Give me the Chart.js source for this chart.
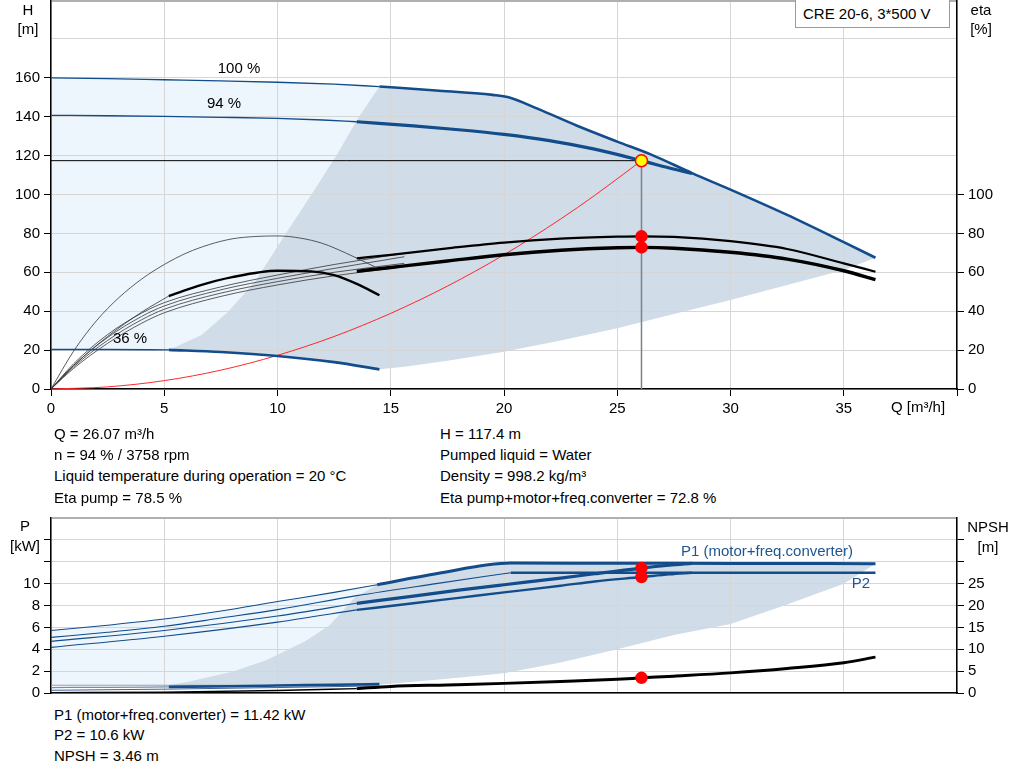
<!DOCTYPE html>
<html><head><meta charset="utf-8">
<script src="https://cdn.jsdelivr.net/npm/chart.js@4/dist/chart.umd.min.js"></script>
<style>
body{margin:0;background:#fff;width:1024px;height:781px;overflow:hidden;font-family:"Liberation Sans",Arial,sans-serif;position:relative;}
canvas{position:absolute;left:0;}
#c1{top:0;}
#c2{top:510px;}
.t{position:absolute;font-size:15px;line-height:18px;white-space:nowrap;color:#000;}
.c{transform:translate(-50%,-50%);}
.l{transform:translateY(-50%);}
#box{position:absolute;left:795px;top:-1px;width:155px;height:29px;border:1px solid #9a9a9a;background:#fff;box-sizing:border-box;}
</style></head><body>
<canvas id="c1" width="1024" height="420"></canvas>
<canvas id="c2" width="1024" height="192"></canvas>

<div id="box"></div>
<div class="t l" style="left:803px;top:14px;">CRE 20-6, 3*500 V</div>

<div class="t c" style="left:28px;top:10px;">H</div>
<div class="t c" style="left:28px;top:29px;">[m]</div>
<div class="t c" style="left:981px;top:10px;">eta</div>
<div class="t c" style="left:981px;top:29px;">[%]</div>
<div class="t c" style="left:918px;top:407px;">Q [m³/h]</div>
<div class="t c" style="left:239px;top:68px;">100 %</div>
<div class="t c" style="left:224px;top:103px;">94 %</div>
<div class="t c" style="left:130px;top:338px;">36 %</div>

<div class="t l" style="left:54px;top:434px;">Q = 26.07 m³/h</div>
<div class="t l" style="left:54px;top:455px;">n = 94 % / 3758 rpm</div>
<div class="t l" style="left:54px;top:476px;">Liquid temperature during operation = 20 °C</div>
<div class="t l" style="left:54px;top:498px;">Eta pump = 78.5 %</div>
<div class="t l" style="left:440px;top:434px;">H = 117.4 m</div>
<div class="t l" style="left:440px;top:455px;">Pumped liquid = Water</div>
<div class="t l" style="left:440px;top:476px;">Density = 998.2 kg/m³</div>
<div class="t l" style="left:440px;top:498px;">Eta pump+motor+freq.converter = 72.8 %</div>

<div class="t c" style="left:25px;top:526px;">P</div>
<div class="t c" style="left:25px;top:546px;">[kW]</div>
<div class="t c" style="left:988px;top:527px;">NPSH</div>
<div class="t c" style="left:988px;top:547px;">[m]</div>
<div class="t c" style="left:767px;top:551px;color:#1f5591;">P1 (motor+freq.converter)</div>
<div class="t c" style="left:861px;top:583px;color:#1f5591;">P2</div>

<div class="t l" style="left:54px;top:715px;">P1 (motor+freq.converter) = 11.42 kW</div>
<div class="t l" style="left:54px;top:735px;">P2 = 10.6 kW</div>
<div class="t l" style="left:54px;top:756px;">NPSH = 3.46 m</div>

<script>
// ---------- Top chart data (Q in m³/h, H in m, eta in %) ----------
const xTicks = [0,5,10,15,20,25,30,35];
const dutyQ = 26.07, dutyH = 117.4, dutyEtaPump = 78.5, dutyEtaTotal = 72.8;
const dutyP1 = 11.42, dutyP2 = 10.6, dutyNPSH = 3.46;

const q100thin = [0,2.5,5,7.5,10,12.5,14.5];
const h100thin = [160,159.6,159,158.4,157.7,156.7,155.5];
const q100thick = [14.5,17,19.5,20.2,21.5,23.2,25,26.5,28.3,30,32.5,35,36.4];
const h100thick = [155.5,153.5,151.2,150,144,135.5,127.2,120.5,111,102.5,89.5,75.5,67.5];

const q94thin = [0,2.5,5,7.5,10,12,13.5];
const h94thin = [140.7,140.5,140.2,139.7,139.1,138.3,137.4];
const q94thick = [13.5,16,18,20,22,24,26.07,27.3,28.3];
const h94thick = [137.4,135.3,133.3,130.9,127.7,123.3,117.4,113.6,110.8];

const q36thin = [0,2.5,5.2];
const h36thin = [20.3,20.3,20.1];
const q36thick = [5.2,7.5,10,12.5,14.5];
const h36thick = [20.1,19,17,13.8,10.1];

const qSys = [0,2.5,5,7.5,10,12.5,15,17.5,20,22.5,24,26.07];
const hSys = [0,1.1,4.3,9.7,17.3,27,38.9,52.9,69,87.4,99.5,117.4];

const qEta = [13.5,15,17.5,20,22.5,25,26.07,27.5,30,32.5,35,36.4];
const etaPump = [67.2,69,72.3,75.3,77.3,78.3,78.5,78.2,76,72,64.6,60.3];
const etaTotal = [60.5,62.5,65.8,69,71.3,72.6,72.8,72.4,70.3,66.8,60.8,56.2];

const qEta36Arc = [0,1,2,3,4,5,6,7,8,9,10,11,12,13,14.3];
const eta36Arc = [0,19.5,35,47,56.5,64,70,74.3,77.2,78.4,78.7,77.6,74.8,70,62.8];
const qEta36TotThin = [0,1,2.5,4,5.2];
const eta36TotThin = [0,12,27,39.5,47.8];
const qEta36Tot = [5.2,6.5,8,10,11.5,12.5,13.5,14.5];
const eta36Tot = [47.8,53,57.5,60.8,60.5,58.5,54,48.2];

const qFan = [0,1,2.5,4,5,7.5,10,12.5,15.6];
const etaFanA = [0,13,28,39,44.4,52.5,58.6,64,69.8];
const etaFanB = [0,12.2,26.5,37.3,42.7,51,56.9,62,68];
const etaFanC = [0,11.4,25,35.6,41,49.3,55.2,60,64.6];
const etaFanD = [0,10.6,23.5,33.8,39.2,47.6,53.5,58.2,62.9];

// recommended (dark) range outline, top chart
const qRangeH = [5.2,6.65,7.8,9,10.4,11.5,12.6,13.6,14.5,17,19.5,20.2,21.5,23.2,25,26.5,28.3,30,32.5,35,36.4,35,32.5,30,27.5,25,22.5,20,17.5,15.6,14.5,12.5,10,7.5,5.2];
const hRangeH = [20.1,27.8,39.4,55,80.5,100,120,140,155.5,153.5,151.2,150,144,135.5,127.2,120.5,111,102.5,89.5,75.5,67.5,61.2,53.5,45.8,38.5,31.2,25,19.2,14.5,11.5,10.1,13.8,17,19,20.1];

// ---------- Bottom chart data (P in kW, NPSH in m) ----------
const qP1_100thin = [0,2.5,5,7.5,10,12.5,14.4];
const p1_100thin = [5.71,6.2,6.76,7.5,8.36,9.2,9.9];
const qP1_100thick = [14.4,17,20.3,25,30,36.4];
const p1_100thick = [9.9,10.9,11.88,11.86,11.85,11.82];
const qP2_100thin = [0,2.5,5,7.5,10,13.5,17,20.3];
const p2_100thin = [5.09,5.55,6.1,6.85,7.62,8.9,10.0,11.0];
const qP2_100thick = [20.3,36.4];
const p2_100thick = [11.0,11.0];
const qP1_94thin = [0,5,10,13.5];
const p1_94thin = [4.72,5.71,7.04,8.2];
const qP2_94thin = [0,5,10,13.5];
const p2_94thin = [4.17,5.19,6.48,7.6];
const qP94thick = [13.5,16,18,20,22.5,24,26.07,27.3,28.3];
const p1_94thick = [8.2,8.85,9.4,9.9,10.5,10.9,11.42,11.68,11.85];
const p2_94thick = [7.6,8.2,8.7,9.2,9.8,10.2,10.6,10.85,11.0];
const qP36thin = [0,2.5,5.2];
const p1_36thin = [0.5,0.52,0.56];
const qP36thick = [5.2,8,10,12.5,14.5];
const p1_36thick = [0.56,0.62,0.68,0.76,0.82];
const qP2_36 = [0,5,10,14.5];
const p2_36 = [0.25,0.35,0.5,0.65];
const qNpshThin = [0,5,10,13.5];
const npshThin = [0.05,0.2,0.55,1.0];
const qNpsh = [13.5,15,17.5,20,22.5,25,26.07,27.5,30,32.5,35,36.4];
const npsh = [1.0,1.5,1.85,2.2,2.65,3.15,3.46,3.85,4.6,5.6,6.9,8.2];
const lightFloorP = 0.71;

const qRangeP = [5.2,6.05,8,9.5,11.2,12.3,13.4,14.4,17,20.3,36.4,35,32.5,30,27.5,25,22.5,20,17.5,14.5,10,5.2];
const pRangeP = [0.71,1.02,1.94,3.0,4.72,6.2,8.7,9.9,10.9,11.88,11.82,10.0,8.1,6.3,5.3,4.0,2.8,1.8,1.3,0.75,0.72,0.71];

// ---------- helpers ----------
const BLUE = 'rgb(18,76,138)';
const DARK = 'rgb(208,220,231)';
const LIGHT = 'rgb(238,246,253)';
const GRID = '#d6d6d6';
const FONT = {family:'"Liberation Sans", Arial, sans-serif', size:15};
const pts = (q, v) => q.map((x, i) => ({x, y: v[i]}));
function ln(q, v, color, w, axis, extra) {
  return Object.assign({type:'line', data: pts(q, v), borderColor: color, borderWidth: w,
    pointRadius: 0, fill: false, yAxisID: axis, cubicInterpolationMode: 'monotone'}, extra || {});
}
function poly(q, v, color, axis) {
  return {type:'line', data: pts(q, v), borderColor: 'rgba(0,0,0,0)', borderWidth: 0, pointRadius: 0,
    fill: 'shape', backgroundColor: color, yAxisID: axis, tension: 0};
}
function dot(q, v, bg, border, axis, r) {
  return {type:'line', data: pts(q, v), showLine: false, pointRadius: r, pointBackgroundColor: bg,
    pointBorderColor: border, pointBorderWidth: 1.5, yAxisID: axis};
}
const noPad = s => { s.paddingTop = 0; s.paddingBottom = 0; s.paddingLeft = 0; s.paddingRight = 0; };
const clear = 'rgba(0,0,0,0)';
const straight = {cubicInterpolationMode:'default', tension:0};

// ---------- top chart ----------
const lightTopQ = q100thin.concat(q36thick.slice().reverse(), q36thin.slice().reverse());
const lightTopH = h100thin.concat(h36thick.slice().reverse(), h36thin.slice().reverse());

new Chart(document.getElementById('c1'), {
  type: 'line',
  data: { datasets: [
    dot([dutyQ], [dutyH], '#ffff00', '#ff0000', 'y', 6),
    dot([dutyQ, dutyQ], [dutyEtaPump, dutyEtaTotal], '#ff0000', '#ff0000', 'y2', 5.5),
    ln(q94thick, h94thick, BLUE, 3.2, 'y'),
    ln(q100thick, h100thick, BLUE, 2.6, 'y'),
    ln(q100thin, h100thin, BLUE, 1.3, 'y'),
    ln(q94thin, h94thin, BLUE, 1.3, 'y'),
    ln(q36thick, h36thick, BLUE, 2.6, 'y'),
    ln(q36thin, h36thin, BLUE, 1.3, 'y'),
    ln(qEta, etaPump, '#000', 2.2, 'y2'),
    ln(qEta, etaTotal, '#000', 3.4, 'y2'),
    ln(qEta36Tot, eta36Tot, '#000', 2.4, 'y2'),
    ln(qEta36TotThin, eta36TotThin, '#333', 0.8, 'y2'),
    ln(qEta36Arc, eta36Arc, '#333', 0.8, 'y2'),
    ln(qFan, etaFanA, '#333', 0.8, 'y2'),
    ln(qFan, etaFanB, '#333', 0.8, 'y2'),
    ln(qFan, etaFanC, '#333', 0.8, 'y2'),
    ln(qFan, etaFanD, '#333', 0.8, 'y2'),
    ln([dutyQ, dutyQ], [dutyH, 0], 'rgb(125,130,138)', 1.5, 'y', straight),
    ln([0, dutyQ], [dutyH, dutyH], '#000', 1, 'y', straight),
    ln(qSys, hSys, 'rgb(255,40,40)', 1, 'y'),
    poly(qRangeH, hRangeH, DARK, 'y'),
    poly(lightTopQ, lightTopH, LIGHT, 'y')
  ]},
  options: {
    responsive: false, animation: false, devicePixelRatio: 1,
    layout: {padding: 0, autoPadding: false},
    plugins: {legend: {display: false}, tooltip: {enabled: false}, filler: {propagate: false, drawTime: 'beforeDraw'}},
    scales: {
      x: {type: 'linear', min: 0, max: 40,
        afterBuildTicks: s => { s.ticks = xTicks.concat([40]).map(v => ({value: v})); },
        ticks: {callback: v => (xTicks.includes(v) ? v : ''), font: FONT, color: '#000', padding: 4, maxRotation: 0, autoSkip: false},
        grid: {color: GRID, lineWidth: 1, tickLength: 7, tickColor: '#000'},
        border: {color: '#000', width: 1.5},
        afterFit: s => { s.height = 31; noPad(s); }},
      y: {type: 'linear', position: 'left', min: 0, max: 200,
        ticks: {stepSize: 20, callback: v => (v <= 160 ? v : ''), font: FONT, color: '#000', padding: 4},
        grid: {color: c => (c.tick && c.tick.value === 200 ? '#b0b0b0' : GRID), lineWidth: c => (c.tick && c.tick.value === 200 ? 3 : 1), tickLength: 7, tickColor: c => (c.tick && c.tick.value > 160 ? clear : '#000')},
        border: {color: '#000', width: 1.5},
        afterFit: s => { s.width = 51; noPad(s); }},
      y2: {type: 'linear', position: 'right', min: 0, max: 200,
        ticks: {stepSize: 20, callback: v => (v <= 100 ? v : ''), font: FONT, color: '#000', padding: 4},
        grid: {drawOnChartArea: false, tickLength: 7, tickColor: c => (c.tick && c.tick.value > 100 ? clear : '#000')},
        border: {color: '#000', width: 1.5},
        afterFit: s => { s.width = 67; noPad(s); }}
    }
  }
});

// ---------- bottom chart ----------
const lightBotQ = qP1_100thin.concat([14.4, 0]);
const lightBotP = p1_100thin.concat([lightFloorP, lightFloorP]);

new Chart(document.getElementById('c2'), {
  type: 'line',
  data: { datasets: [
    dot([dutyQ, dutyQ], [dutyP1, dutyP2], '#ff0000', '#ff0000', 'y', 5.5),
    dot([dutyQ], [dutyNPSH], '#ff0000', '#ff0000', 'y2', 5.5),
    ln(qNpsh, npsh, '#000', 3, 'y2'),
    ln(qNpshThin, npshThin, '#000', 1.5, 'y2'),
    ln(qP94thick, p1_94thick, BLUE, 3.2, 'y'),
    ln(qP94thick, p2_94thick, BLUE, 2.4, 'y'),
    ln(qP1_100thick, p1_100thick, BLUE, 3, 'y'),
    ln(qP2_100thick, p2_100thick, BLUE, 2.4, 'y'),
    ln(qP1_100thin, p1_100thin, BLUE, 1.1, 'y'),
    ln(qP2_100thin, p2_100thin, BLUE, 1.1, 'y'),
    ln(qP1_94thin, p1_94thin, BLUE, 1.1, 'y'),
    ln(qP2_94thin, p2_94thin, BLUE, 1.1, 'y'),
    ln(qP36thick, p1_36thick, BLUE, 2.6, 'y'),
    ln(qP36thin, p1_36thin, 'rgb(120,140,170)', 1.2, 'y'),
    ln(qP2_36, p2_36, 'rgb(60,100,150)', 1, 'y'),
    ln([0, 14.4], [lightFloorP, lightFloorP], 'rgb(150,160,170)', 1, 'y', straight),
    poly(qRangeP, pRangeP, DARK, 'y'),
    poly(lightBotQ, lightBotP, LIGHT, 'y')
  ]},
  options: {
    responsive: false, animation: false, devicePixelRatio: 1,
    layout: {padding: {top: 8, left: 0, right: 0, bottom: 0}, autoPadding: false},
    plugins: {legend: {display: false}, tooltip: {enabled: false}, filler: {propagate: false, drawTime: 'beforeDraw'}},
    scales: {
      x: {type: 'linear', min: 0, max: 40,
        ticks: {display: false, stepSize: 5},
        grid: {color: GRID, lineWidth: 1, drawTicks: false},
        border: {color: '#000', width: 1.5},
        afterFit: s => { s.height = 9; noPad(s); }},
      y: {type: 'linear', position: 'left', min: 0, max: 16,
        ticks: {stepSize: 2, callback: v => (v <= 10 ? v : ''), font: FONT, color: '#000', padding: 4},
        grid: {color: c => (c.tick && c.tick.value === 16 ? '#b0b0b0' : GRID), lineWidth: c => (c.tick && c.tick.value === 16 ? 2 : 1), tickLength: 7, tickColor: c => (c.tick && c.tick.value > 14 ? clear : '#000')},
        border: {color: '#000', width: 1.5},
        afterFit: s => { s.width = 51; noPad(s); }},
      y2: {type: 'linear', position: 'right', min: 0, max: 40,
        ticks: {stepSize: 5, callback: v => (v <= 25 ? v : ''), font: FONT, color: '#000', padding: 4},
        grid: {drawOnChartArea: false, tickLength: 7, tickColor: c => (c.tick && c.tick.value > 35 ? clear : '#000')},
        border: {color: '#000', width: 1.5},
        afterFit: s => { s.width = 67; noPad(s); }}
    }
  }
});
</script>
</body></html>
